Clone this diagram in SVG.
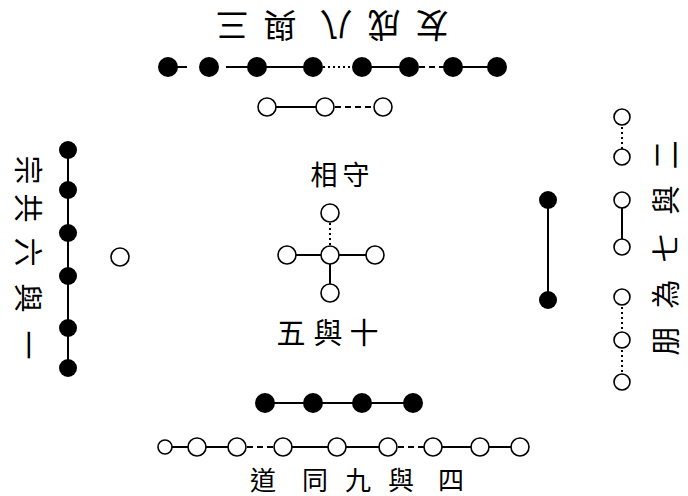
<svg xmlns="http://www.w3.org/2000/svg" width="688" height="496" viewBox="0 0 688 496">
<style>
.b{fill:#000}
.w{fill:#fff;stroke:#000;stroke-width:1.6}
.c line{stroke:#000;stroke-width:2}
.d{stroke-dasharray:2 3}
.ds{stroke-dasharray:6 4}
.t{font-family:"Noto Sans CJK TC","Noto Sans CJK SC",sans-serif;fill:#000;text-anchor:middle;dominant-baseline:central}
</style>
<rect width="688" height="496" fill="#fff"/>
<g id="connectors" class="c">
<line x1="168" y1="67" x2="187" y2="67"/>
<line x1="226" y1="67" x2="257" y2="67"/>
<line x1="257" y1="67" x2="313" y2="67"/>
<line x1="313" y1="67" x2="362" y2="67" class="d"/>
<line x1="362" y1="67" x2="409" y2="67"/>
<line x1="409" y1="67" x2="453" y2="67" class="ds"/>
<line x1="453" y1="67" x2="497" y2="67"/>
<line x1="267" y1="107" x2="325" y2="107"/>
<line x1="325" y1="107" x2="383" y2="107" class="ds"/>
<line x1="68" y1="150" x2="68" y2="368"/>
<line x1="548" y1="200" x2="548" y2="300"/>
<line x1="622" y1="117" x2="622" y2="157" class="d"/>
<line x1="622" y1="200" x2="622" y2="247"/>
<line x1="622" y1="297" x2="622" y2="340" class="d"/>
<line x1="622" y1="340" x2="622" y2="382" class="d"/>
<line x1="330" y1="213" x2="330" y2="255" class="d"/>
<line x1="287" y1="255" x2="375" y2="255"/>
<line x1="330" y1="264" x2="330" y2="284"/>
<line x1="265" y1="403" x2="413" y2="403"/>
<line x1="165" y1="447" x2="237" y2="447"/>
<line x1="237" y1="447" x2="283" y2="447" class="ds"/>
<line x1="283" y1="447" x2="388" y2="447"/>
<line x1="388" y1="447" x2="433" y2="447" class="ds"/>
<line x1="433" y1="447" x2="520" y2="447"/>
</g>
<g id="top-black">
<circle class="b" cx="168" cy="67" r="10"/>
<circle class="b" cx="209" cy="67" r="10"/>
<circle class="b" cx="257" cy="67" r="10"/>
<circle class="b" cx="313" cy="67" r="10"/>
<circle class="b" cx="362" cy="67" r="10"/>
<circle class="b" cx="409" cy="67" r="10"/>
<circle class="b" cx="453" cy="67" r="10"/>
<circle class="b" cx="497" cy="67" r="10"/>
</g>
<g id="top-white">
<circle class="w" cx="267" cy="107" r="9"/>
<circle class="w" cx="325" cy="107" r="9"/>
<circle class="w" cx="383" cy="107" r="9"/>
</g>
<g id="left-black">
<circle class="b" cx="68" cy="150" r="9"/>
<circle class="b" cx="68" cy="190" r="9"/>
<circle class="b" cx="68" cy="233" r="9"/>
<circle class="b" cx="68" cy="276" r="9"/>
<circle class="b" cx="68" cy="328" r="9"/>
<circle class="b" cx="68" cy="368" r="9"/>
</g>
<g id="left-white">
<circle class="w" cx="120" cy="257" r="9"/>
</g>
<g id="right-black">
<circle class="b" cx="548" cy="200" r="9"/>
<circle class="b" cx="548" cy="300" r="9"/>
</g>
<g id="right-white">
<circle class="w" cx="622" cy="117" r="8"/>
<circle class="w" cx="622" cy="157" r="8"/>
<circle class="w" cx="622" cy="200" r="8"/>
<circle class="w" cx="622" cy="247" r="8"/>
<circle class="w" cx="622" cy="297" r="8"/>
<circle class="w" cx="622" cy="340" r="8"/>
<circle class="w" cx="622" cy="382" r="8"/>
</g>
<g id="center-white">
<circle class="w" cx="330" cy="213" r="9"/>
<circle class="w" cx="287" cy="255" r="9"/>
<circle class="w" cx="330" cy="255" r="9"/>
<circle class="w" cx="375" cy="255" r="9"/>
<circle class="w" cx="330" cy="293" r="9"/>
</g>
<g id="bottom-black">
<circle class="b" cx="265" cy="403" r="10"/>
<circle class="b" cx="313" cy="403" r="10"/>
<circle class="b" cx="362" cy="403" r="10"/>
<circle class="b" cx="413" cy="403" r="10"/>
</g>
<g id="bottom-white">
<circle class="w" cx="165" cy="447" r="7"/>
<circle class="w" cx="197" cy="447" r="9"/>
<circle class="w" cx="237" cy="447" r="9"/>
<circle class="w" cx="283" cy="447" r="9"/>
<circle class="w" cx="337" cy="447" r="9"/>
<circle class="w" cx="388" cy="447" r="9"/>
<circle class="w" cx="433" cy="447" r="9"/>
<circle class="w" cx="480" cy="447" r="9"/>
<circle class="w" cx="520" cy="447" r="9"/>
</g>
<g id="label-top" transform="rotate(180 332 27)">
<text class="t" font-size="33" x="232 280 328 384 432" y="27">友成八與三</text>
</g>
<g id="label-bottom">
<text class="t" font-size="26" x="263 315 358 401 451" y="478">道同九與四</text>
</g>
<g id="label-left" transform="rotate(90 30 258)">
<text class="t" font-size="29" x="-58 -20 24 70 117" y="258">宗共六與一</text>
</g>
<g id="label-right" transform="rotate(-90 664 248)">
<text class="t" font-size="29" x="571 618 664 712 757" y="248">朋為七與二</text>
</g>
<g id="label-center-top">
<text class="t" font-size="27" x="324 356" y="173">相守</text>
</g>
<g id="label-center-bottom">
<text class="t" font-size="29" x="291 328 364" y="331">五與十</text>
</g>
</svg>
